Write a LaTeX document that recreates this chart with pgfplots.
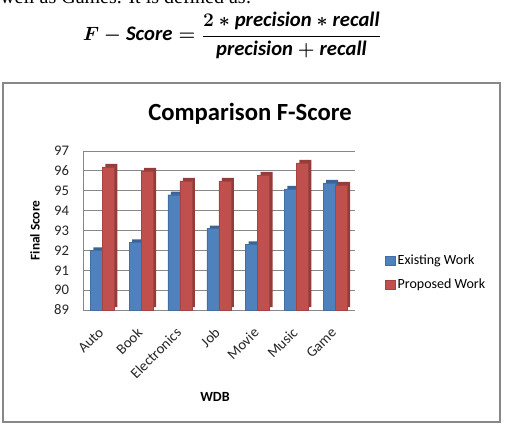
\documentclass[border=0pt]{standalone}
\usepackage{fontspec}
\usepackage{pgfplots}
\pgfplotsset{compat=1.18}
\setmainfont{Carlito}
\newfontfamily\serif{Liberation Serif}
\definecolor{exblue}{HTML}{4F81BD}
\definecolor{exside}{HTML}{3A6396}
\definecolor{prred}{HTML}{C0504D}
\definecolor{prside}{HTML}{933C39}
\definecolor{gridgray}{HTML}{888888}
\newsavebox\formbox
\pgfplotstableread{
x ex pr
0 92.0 96.2
1 92.4 96.0
2 94.8 95.5
3 93.1 95.5
4 92.3 95.8
5 95.1 96.4
6 95.4 95.3
}\datatable
\begin{document}
\sbox\formbox{\fontsize{15.5pt}{17pt}\selectfont\boldmath$\displaystyle F - \mathit{Score} = \frac{2 \ast \mathit{precision} \ast \mathit{recall}}{\mathit{precision} + \mathit{recall}}$}%
\begin{tikzpicture}
\useasboundingbox (0,0) rectangle (378.75pt,318pt);
\node[anchor=base west, inner sep=0pt, font=\serif\fontsize{15pt}{17pt}\selectfont] at (0pt,315pt) {well as Games. It is defined as:};
\node[inner sep=0pt] at (174pt,291.5pt) {\usebox\formbox};
\draw[gridgray, line width=0.8pt] (2.25pt,1.5pt) rectangle (375pt,255.75pt);
\node[font=\bfseries\fontsize{18.5pt}{20pt}\selectfont] at (187.5pt,233pt) {Comparison F-Score};
\begin{axis}[
  at={(62.25pt,85.5pt)}, anchor=south west,
  scale only axis, width=203.7pt, height=119.25pt,
  ybar=0pt, bar width=9pt,
  xmin=-0.5, xmax=6.5, ymin=89, ymax=97,
  xtick={0,1,2,3,4,5,6},
  xticklabels={Auto,Book,Electronics,Job,Movie,Music,Game},
  ytick={89,90,...,97},
  /pgf/number format/assume math mode=true,
  ymajorgrids, grid style={gridgray, line width=0.6pt},
  axis x line*=bottom, axis y line*=left,
  axis line style={gridgray, line width=0.6pt, -},
  major tick length=0pt,
  tick label style={font=\fontsize{11pt}{13pt}\selectfont, text=black!85},
  yticklabel style={xshift=-7pt},
  xticklabel style={rotate=45, anchor=east, yshift=-10pt, xshift=-8pt},
  xlabel={\textbf{WDB}}, ylabel={\textbf{Final Score}},
  xlabel style={font=\fontsize{10.5pt}{12pt}\selectfont, at={(axis description cs:0.486,-0.547)}, anchor=center},
  ylabel style={font=\fontsize{10pt}{11pt}\selectfont, at={(axis description cs:-0.177,0.5)}, anchor=center},
  legend style={at={(axis description cs:1.112,0.365)}, anchor=north west, draw=none, fill=none,
    font=\fontsize{10.5pt}{12pt}\selectfont, row sep=5pt, inner sep=0pt},
  legend cell align=left,
  legend image code/.code={\fill[#1] (0pt,-3.5pt) rectangle (7pt,3.5pt);},
]
\addplot[fill=exside, draw=none, bar shift=-2.25pt, yshift=2.25pt, forget plot] table[x=x, y=ex] {\datatable};
\addplot[fill=exblue, draw=exblue!85!black, line width=0.3pt, bar shift=-4.5pt] table[x=x, y=ex] {\datatable};
\addplot[fill=prside, draw=none, bar shift=6.75pt, yshift=2.25pt, forget plot] table[x=x, y=pr] {\datatable};
\addplot[fill=prred, draw=prred!85!black, line width=0.3pt, bar shift=4.5pt] table[x=x, y=pr] {\datatable};
\legend{Existing Work, Proposed Work}
\end{axis}
\end{tikzpicture}
\end{document}
